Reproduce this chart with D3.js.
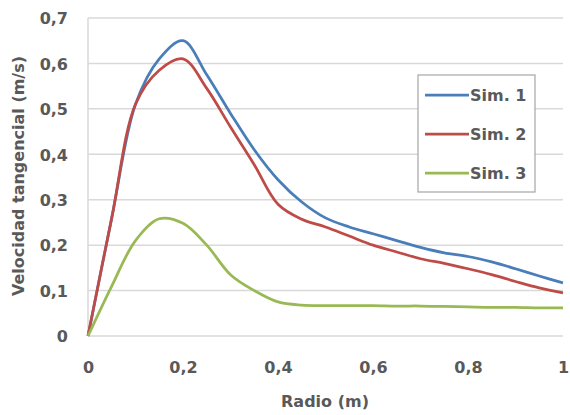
<!doctype html>
<html lang="es">
<head>
<meta charset="utf-8">
<title>Velocidad tangencial</title>
<script src="https://cdn.jsdelivr.net/npm/d3@7"></script>
<style>
  body { margin: 0; background: #fff; }
  text { font-family: "DejaVu Sans", sans-serif; font-weight: bold; fill: #595959; }
</style>
</head>
<body>
<svg id="chart" width="570" height="415"></svg>
<script>
// radio (m)
var radio = [0, 0.05, 0.1, 0.15, 0.2, 0.25, 0.3, 0.35, 0.4, 0.45, 0.5,
             0.55, 0.6, 0.65, 0.7, 0.75, 0.8, 0.85, 0.9, 0.95, 1];
var sim1 = [0, 0.26, 0.51, 0.61, 0.65, 0.575, 0.49, 0.41, 0.344, 0.295, 0.26,
            0.24, 0.225, 0.21, 0.195, 0.183, 0.175, 0.163, 0.148, 0.132, 0.117];
var sim2 = [0, 0.26, 0.51, 0.585, 0.61, 0.545, 0.46, 0.377, 0.29, 0.257, 0.24,
            0.22, 0.2, 0.185, 0.17, 0.16, 0.148, 0.135, 0.12, 0.106, 0.095];
var sim3 = [0, 0.11, 0.21, 0.258, 0.248, 0.2, 0.135, 0.1, 0.075, 0.068, 0.067,
            0.067, 0.067, 0.066, 0.066, 0.065, 0.064, 0.063, 0.063, 0.062, 0.062];
var seriesNames = ["Sim. 1", "Sim. 2", "Sim. 3"];
var colors = ["#4a7ebb", "#be4b48", "#98b954"];
var xTicks = [0, 0.2, 0.4, 0.6, 0.8, 1];
var yTicks = [0, 0.1, 0.2, 0.3, 0.4, 0.5, 0.6, 0.7];

var svg = d3.select("#chart");
var x = d3.scaleLinear().domain([0, 1]).range([88, 563]);
var y = d3.scaleLinear().domain([0, 0.7]).range([336, 18]);
var fmt = function(d) { return String(d).replace(".", ","); };

// grid
svg.append("g").selectAll("line").data(yTicks).enter().append("line")
  .attr("x1", x(0)).attr("x2", x(1))
  .attr("y1", function(d) { return y(d); }).attr("y2", function(d) { return y(d); })
  .style("stroke", "#d9d9d9").style("stroke-width", 1.5);
svg.append("line")
  .attr("x1", x(0)).attr("x2", x(0)).attr("y1", y(0.7)).attr("y2", y(0))
  .style("stroke", "#d9d9d9").style("stroke-width", 1.5);

// axes
var yAxis = svg.append("g").attr("transform", "translate(" + (x(0) - 20) + ",0)")
  .call(d3.axisLeft(y).tickValues(yTicks).tickFormat(fmt).tickSize(0));
yAxis.select(".domain").remove();
yAxis.selectAll("text").style("font-size", "16px").attr("x", 0).attr("dy", "0.36em");

var xAxis = svg.append("g").attr("transform", "translate(0," + y(0) + ")")
  .call(d3.axisBottom(x).tickValues(xTicks).tickFormat(fmt).tickSize(0));
xAxis.select(".domain").remove();
xAxis.selectAll("text").style("font-size", "16px").attr("y", 37).attr("dy", 0);

svg.append("text").attr("x", 325).attr("y", 407).attr("text-anchor", "middle")
  .style("font-size", "16px").text("Radio (m)");
svg.append("text").attr("transform", "translate(24,176) rotate(-90)")
  .attr("text-anchor", "middle").style("font-size", "16px")
  .text("Velocidad tangencial (m/s)");

// lines
var line = d3.line()
  .x(function(d, i) { return x(radio[i]); })
  .y(function(d) { return y(d); })
  .curve(d3.curveCatmullRom);
[sim1, sim2, sim3].forEach(function(s, k) {
  svg.append("path").datum(s).attr("d", line)
    .style("fill", "none").style("stroke", colors[k]).style("stroke-width", 2.75);
});

// legend
var lg = svg.append("g");
lg.append("rect").attr("x", 418).attr("y", 75).attr("width", 117).attr("height", 117)
  .style("fill", "#fff").style("stroke", "#a6a6a6").style("stroke-width", 1.2);
seriesNames.forEach(function(n, k) {
  var yy = 95 + k * 39;
  lg.append("line").attr("x1", 425).attr("x2", 469).attr("y1", yy).attr("y2", yy)
    .style("stroke", colors[k]).style("stroke-width", 2.75);
  lg.append("text").attr("x", 470).attr("y", yy).attr("dy", "0.36em")
    .style("font-size", "16px").text(n);
});
</script>
</body>
</html>
